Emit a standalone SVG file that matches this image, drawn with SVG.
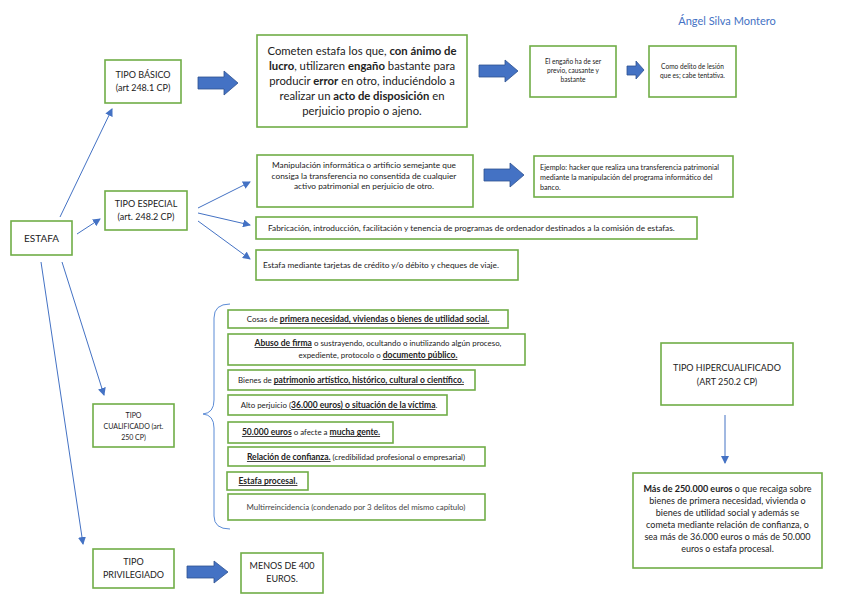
<svg xmlns="http://www.w3.org/2000/svg" width="848" height="599" viewBox="0 0 848 599">
<defs>
<style>
text{font-family:Lato,"Liberation Sans",sans-serif;fill:#222}
.box{fill:#fff;stroke:#70AD47;stroke-width:1.6}
.blk{fill:#4472C4;stroke:#2F528F;stroke-width:0.8}
.con{stroke:#4472C4;stroke-width:1;fill:none}
.b{font-weight:bold}
.u{text-decoration:underline}
.c{text-anchor:middle}
.q{font-size:7.9px}
.qb{font-size:8.5px;font-weight:bold;text-decoration:underline}
</style>
<marker id="ah" markerWidth="8" markerHeight="8" refX="7" refY="4" orient="auto" markerUnits="userSpaceOnUse">
<path d="M0,0 L8,4 L0,8 Z" fill="#4472C4"/>
</marker>
</defs>
<rect width="848" height="599" fill="#fff"/>

<text x="727" y="25" class="c" style="font-size:11px;fill:#4472C4">Ángel Silva Montero</text>

<g id="connectors">
<line class="con" x1="60" y1="217" x2="112" y2="109" marker-end="url(#ah)"/>
<line class="con" x1="77" y1="234" x2="100" y2="219" marker-end="url(#ah)"/>
<line class="con" x1="198" y1="208" x2="250" y2="182" marker-end="url(#ah)"/>
<line class="con" x1="198" y1="213" x2="250" y2="225" marker-end="url(#ah)"/>
<line class="con" x1="198" y1="221" x2="250" y2="259" marker-end="url(#ah)"/>
<line class="con" x1="62" y1="262" x2="104" y2="395" marker-end="url(#ah)"/>
<line class="con" x1="41" y1="262" x2="83" y2="544" marker-end="url(#ah)"/>
<line class="con" x1="725" y1="415" x2="725" y2="463" marker-end="url(#ah)"/>
<path class="con" d="M230,304 Q214,304 214,318 L214,400 Q214,413 203,414 Q214,415 214,428 L214,516 Q214,529 230,529" style="stroke:#5B8BD6"/>
<path class="blk" d="M198,77 H224 V71 L238,83 L224,95 V89 H198 Z"/>
<path class="blk" d="M479,65 H505 V60 L518,71 L505,82 V77 H479 Z"/>
<path class="blk" d="M627,66 H636 V61 L644,70 L636,79 V75 H627 Z"/>
<path class="blk" d="M484,169 H510 V163 L524,175 L510,187 V181 H484 Z"/>
<path class="blk" d="M187,566 H214 V561 L228,572 L214,583 V578 H187 Z"/>
</g>

<g id="estafa">
<rect class="box" x="11" y="221" width="61" height="34"/>
<text x="41.5" y="242" class="c" style="font-size:10px">ESTAFA</text>
</g>

<g id="tipo-basico">
<rect class="box" x="105" y="60" width="76" height="43"/>
<text class="c" style="font-size:9px"><tspan x="143" y="78">TIPO BÁSICO</tspan><tspan x="143" y="91">(art 248.1 CP)</tspan></text>
</g>

<g id="definicion">
<rect class="box" x="257" y="35" width="210" height="92"/>
<text class="c" style="font-size:11.3px"><tspan x="362" y="55">Cometen estafa los que, <tspan class="b">con ánimo de</tspan></tspan><tspan x="362" y="70"><tspan class="b">lucro</tspan>, utilizaren <tspan class="b">engaño</tspan> bastante para</tspan><tspan x="362" y="85">producir <tspan class="b">error</tspan> en otro, induciéndolo a</tspan><tspan x="362" y="100">realizar un <tspan class="b">acto de disposición</tspan> en</tspan><tspan x="362" y="115">perjuicio propio o ajeno.</tspan></text>
</g>

<g id="engano">
<rect class="box" x="530" y="46" width="86" height="51"/>
<text class="c" style="font-size:6.6px"><tspan x="573" y="64">El engaño ha de ser</tspan><tspan x="573" y="73">previo, causante y</tspan><tspan x="573" y="82">bastante</tspan></text>
</g>

<g id="tentativa">
<rect class="box" x="649" y="46" width="87" height="51"/>
<text class="c" style="font-size:6.6px"><tspan x="692.5" y="69">Como delito de lesión</tspan><tspan x="692.5" y="78">que es; cabe tentativa.</tspan></text>
</g>

<g id="tipo-especial">
<rect class="box" x="105" y="191" width="82" height="39"/>
<text class="c" style="font-size:9px"><tspan x="146" y="207">TIPO ESPECIAL</tspan><tspan x="146" y="220">(art. 248.2 CP)</tspan></text>
</g>

<g id="manipulacion">
<rect class="box" x="257" y="155" width="216" height="52"/>
<text class="c" style="font-size:8.3px"><tspan x="364" y="168">Manipulación informática o artificio semejante que</tspan><tspan x="364" y="178.5">consiga la transferencia no consentida de cualquier</tspan><tspan x="364" y="189">activo patrimonial en perjuicio de otro.</tspan></text>
</g>

<g id="ejemplo">
<rect class="box" x="534" y="156" width="199" height="41"/>
<text style="font-size:7.2px"><tspan x="540" y="170">Ejemplo: hacker que realiza una transferencia patrimonial</tspan><tspan x="540" y="180">mediante la manipulación del programa informático del</tspan><tspan x="540" y="190">banco.</tspan></text>
</g>

<g id="fabricacion">
<rect class="box" x="256" y="217" width="441" height="22"/>
<text x="268" y="231" style="font-size:8.3px">Fabricación, introducción, facilitación y tenencia de programas de ordenador destinados a la comisión de estafas.</text>
</g>

<g id="tarjetas">
<rect class="box" x="256" y="250" width="262" height="30"/>
<text x="263" y="268" style="font-size:8.3px">Estafa mediante tarjetas de crédito y/o débito y cheques de viaje.</text>
</g>

<g id="tipo-cualificado">
<rect class="box" x="93" y="404" width="81" height="43"/>
<text class="c" style="font-size:7px"><tspan x="133.5" y="418">TIPO</tspan><tspan x="133.5" y="429">CUALIFICADO (art.</tspan><tspan x="133.5" y="440">250 CP)</tspan></text>
</g>

<g id="q1">
<rect class="box" x="228" y="310" width="280" height="18"/>
<text x="368" y="322" class="c q">Cosas de <tspan class="qb">primera necesidad, viviendas o bienes de utilidad social.</tspan></text>
</g>
<g id="q2">
<rect class="box" x="228" y="334" width="297" height="31"/>
<text class="c q"><tspan x="378" y="346"><tspan class="qb">Abuso de firma</tspan> o sustrayendo, ocultando o inutilizando algún proceso,</tspan><tspan x="378" y="358">expediente, protocolo o <tspan class="qb">documento público.</tspan></tspan></text>
</g>
<g id="q3">
<rect class="box" x="228" y="370" width="247" height="20"/>
<text x="351" y="383" class="c q">Bienes de <tspan class="qb">patrimonio artístico, histórico, cultural o científico.</tspan></text>
</g>
<g id="q4">
<rect class="box" x="228" y="395" width="219" height="20"/>
<text x="339" y="408" class="c q">Alto perjuicio (<tspan class="qb">36.000 euros) o situación de la víctima</tspan>.</text>
</g>
<g id="q5">
<rect class="box" x="228" y="422" width="165" height="21"/>
<text x="311" y="435" class="c q"><tspan class="qb">50.000 euros</tspan> o afecte a <tspan class="qb">mucha gente.</tspan></text>
</g>
<g id="q6">
<rect class="box" x="228" y="447" width="257" height="19"/>
<text x="356" y="460" class="c q"><tspan class="qb">Relación de confianza.</tspan> (credibilidad profesional o empresarial)</text>
</g>
<g id="q7">
<rect class="box" x="227" y="472" width="81" height="18"/>
<text x="268" y="484" class="c q"><tspan class="qb">Estafa procesal.</tspan></text>
</g>
<g id="q8">
<rect class="box" x="228" y="494" width="257" height="26"/>
<text x="356" y="510" class="c" style="font-size:7.9px;fill:#444">Multirreincidencia (condenado por 3 delitos del mismo capítulo)</text>
</g>

<g id="tipo-privilegiado">
<rect class="box" x="93" y="549" width="81" height="39"/>
<text class="c" style="font-size:9px"><tspan x="133.5" y="565">TIPO</tspan><tspan x="133.5" y="578">PRIVILEGIADO</tspan></text>
</g>

<g id="menos400">
<rect class="box" x="241" y="553" width="82" height="40"/>
<text class="c" style="font-size:9px"><tspan x="282" y="569">MENOS DE 400</tspan><tspan x="282" y="582">EUROS.</tspan></text>
</g>

<g id="tipo-hipercualificado">
<rect class="box" x="661" y="343" width="132" height="62"/>
<text class="c" style="font-size:9px"><tspan x="727" y="371">TIPO HIPERCUALIFICADO</tspan><tspan x="727" y="385">(ART 250.2 CP)</tspan></text>
</g>

<g id="hiper-detalle">
<rect class="box" x="633" y="473" width="189" height="95"/>
<text class="c" style="font-size:9px"><tspan x="727.5" y="492"><tspan class="b">Más de 250.000 euros</tspan> o que recaiga sobre</tspan><tspan x="727.5" y="504">bienes de primera necesidad, vivienda o</tspan><tspan x="727.5" y="516">bienes de utilidad social y además se</tspan><tspan x="727.5" y="528">cometa mediante relación de confianza, o</tspan><tspan x="727.5" y="540">sea más de 36.000 euros o más de 50.000</tspan><tspan x="727.5" y="552">euros o estafa procesal.</tspan></text>
</g>
</svg>
